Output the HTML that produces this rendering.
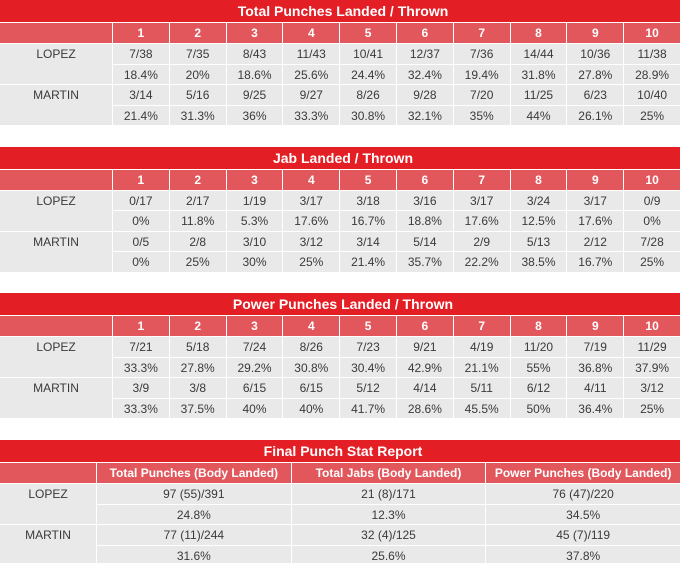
<!DOCTYPE html>
<html><head><meta charset="utf-8">
<style>
html,body{margin:0;padding:0;background:#fff;width:680px;height:563px;overflow:hidden;}
body{position:relative;font-family:"Liberation Sans",Arial,sans-serif;}
.t{position:absolute;left:0;width:680px;}
.title{height:22px;background:#e31e24;color:#fff;font-weight:bold;font-size:14px;line-height:22px;text-align:center;padding-left:6px;box-sizing:border-box;}
.g{display:grid;margin-top:1px;gap:1px;background:#fff;}
.g10{grid-template-columns:112px repeat(10,1fr);grid-template-rows:20px 19.5px 19.5px 19.5px 19.5px;}
.g3{grid-template-columns:96px 1fr 1fr 1fr;grid-template-rows:20px 19.5px 19.5px 19.5px 19.5px;}
.g div{background:#e9e9e9;color:#3a3a3a;font-size:12px;display:flex;align-items:center;justify-content:center;padding-top:1px;box-sizing:border-box;}
.g .h{background:#e2575c;color:#fff;font-weight:bold;font-size:12px;padding-top:0;}
.g .l{grid-row:span 2;align-items:flex-start;padding-top:3px;font-size:12px;}
</style></head><body>

<div class="t" style="top:0">
<div class="title">Total Punches Landed / Thrown</div>
<div class="g g10">
<div class="h"></div><div class="h">1</div><div class="h">2</div><div class="h">3</div><div class="h">4</div><div class="h">5</div><div class="h">6</div><div class="h">7</div><div class="h">8</div><div class="h">9</div><div class="h">10</div>
<div class="l">LOPEZ</div><div>7/38</div><div>7/35</div><div>8/43</div><div>11/43</div><div>10/41</div><div>12/37</div><div>7/36</div><div>14/44</div><div>10/36</div><div>11/38</div>
<div>18.4%</div><div>20%</div><div>18.6%</div><div>25.6%</div><div>24.4%</div><div>32.4%</div><div>19.4%</div><div>31.8%</div><div>27.8%</div><div>28.9%</div>
<div class="l">MARTIN</div><div>3/14</div><div>5/16</div><div>9/25</div><div>9/27</div><div>8/26</div><div>9/28</div><div>7/20</div><div>11/25</div><div>6/23</div><div>10/40</div>
<div>21.4%</div><div>31.3%</div><div>36%</div><div>33.3%</div><div>30.8%</div><div>32.1%</div><div>35%</div><div>44%</div><div>26.1%</div><div>25%</div>
</div></div>

<div class="t" style="top:146.5px">
<div class="title">Jab Landed / Thrown</div>
<div class="g g10">
<div class="h"></div><div class="h">1</div><div class="h">2</div><div class="h">3</div><div class="h">4</div><div class="h">5</div><div class="h">6</div><div class="h">7</div><div class="h">8</div><div class="h">9</div><div class="h">10</div>
<div class="l">LOPEZ</div><div>0/17</div><div>2/17</div><div>1/19</div><div>3/17</div><div>3/18</div><div>3/16</div><div>3/17</div><div>3/24</div><div>3/17</div><div>0/9</div>
<div>0%</div><div>11.8%</div><div>5.3%</div><div>17.6%</div><div>16.7%</div><div>18.8%</div><div>17.6%</div><div>12.5%</div><div>17.6%</div><div>0%</div>
<div class="l">MARTIN</div><div>0/5</div><div>2/8</div><div>3/10</div><div>3/12</div><div>3/14</div><div>5/14</div><div>2/9</div><div>5/13</div><div>2/12</div><div>7/28</div>
<div>0%</div><div>25%</div><div>30%</div><div>25%</div><div>21.4%</div><div>35.7%</div><div>22.2%</div><div>38.5%</div><div>16.7%</div><div>25%</div>
</div></div>

<div class="t" style="top:293px">
<div class="title">Power Punches Landed / Thrown</div>
<div class="g g10">
<div class="h"></div><div class="h">1</div><div class="h">2</div><div class="h">3</div><div class="h">4</div><div class="h">5</div><div class="h">6</div><div class="h">7</div><div class="h">8</div><div class="h">9</div><div class="h">10</div>
<div class="l">LOPEZ</div><div>7/21</div><div>5/18</div><div>7/24</div><div>8/26</div><div>7/23</div><div>9/21</div><div>4/19</div><div>11/20</div><div>7/19</div><div>11/29</div>
<div>33.3%</div><div>27.8%</div><div>29.2%</div><div>30.8%</div><div>30.4%</div><div>42.9%</div><div>21.1%</div><div>55%</div><div>36.8%</div><div>37.9%</div>
<div class="l">MARTIN</div><div>3/9</div><div>3/8</div><div>6/15</div><div>6/15</div><div>5/12</div><div>4/14</div><div>5/11</div><div>6/12</div><div>4/11</div><div>3/12</div>
<div>33.3%</div><div>37.5%</div><div>40%</div><div>40%</div><div>41.7%</div><div>28.6%</div><div>45.5%</div><div>50%</div><div>36.4%</div><div>25%</div>
</div></div>

<div class="t" style="top:440px">
<div class="title">Final Punch Stat Report</div>
<div class="g g3">
<div class="h"></div><div class="h">Total Punches (Body Landed)</div><div class="h">Total Jabs (Body Landed)</div><div class="h">Power Punches (Body Landed)</div>
<div class="l">LOPEZ</div><div>97 (55)/391</div><div>21 (8)/171</div><div>76 (47)/220</div>
<div>24.8%</div><div>12.3%</div><div>34.5%</div>
<div class="l">MARTIN</div><div>77 (11)/244</div><div>32 (4)/125</div><div>45 (7)/119</div>
<div>31.6%</div><div>25.6%</div><div>37.8%</div>
</div></div>

</body></html>
